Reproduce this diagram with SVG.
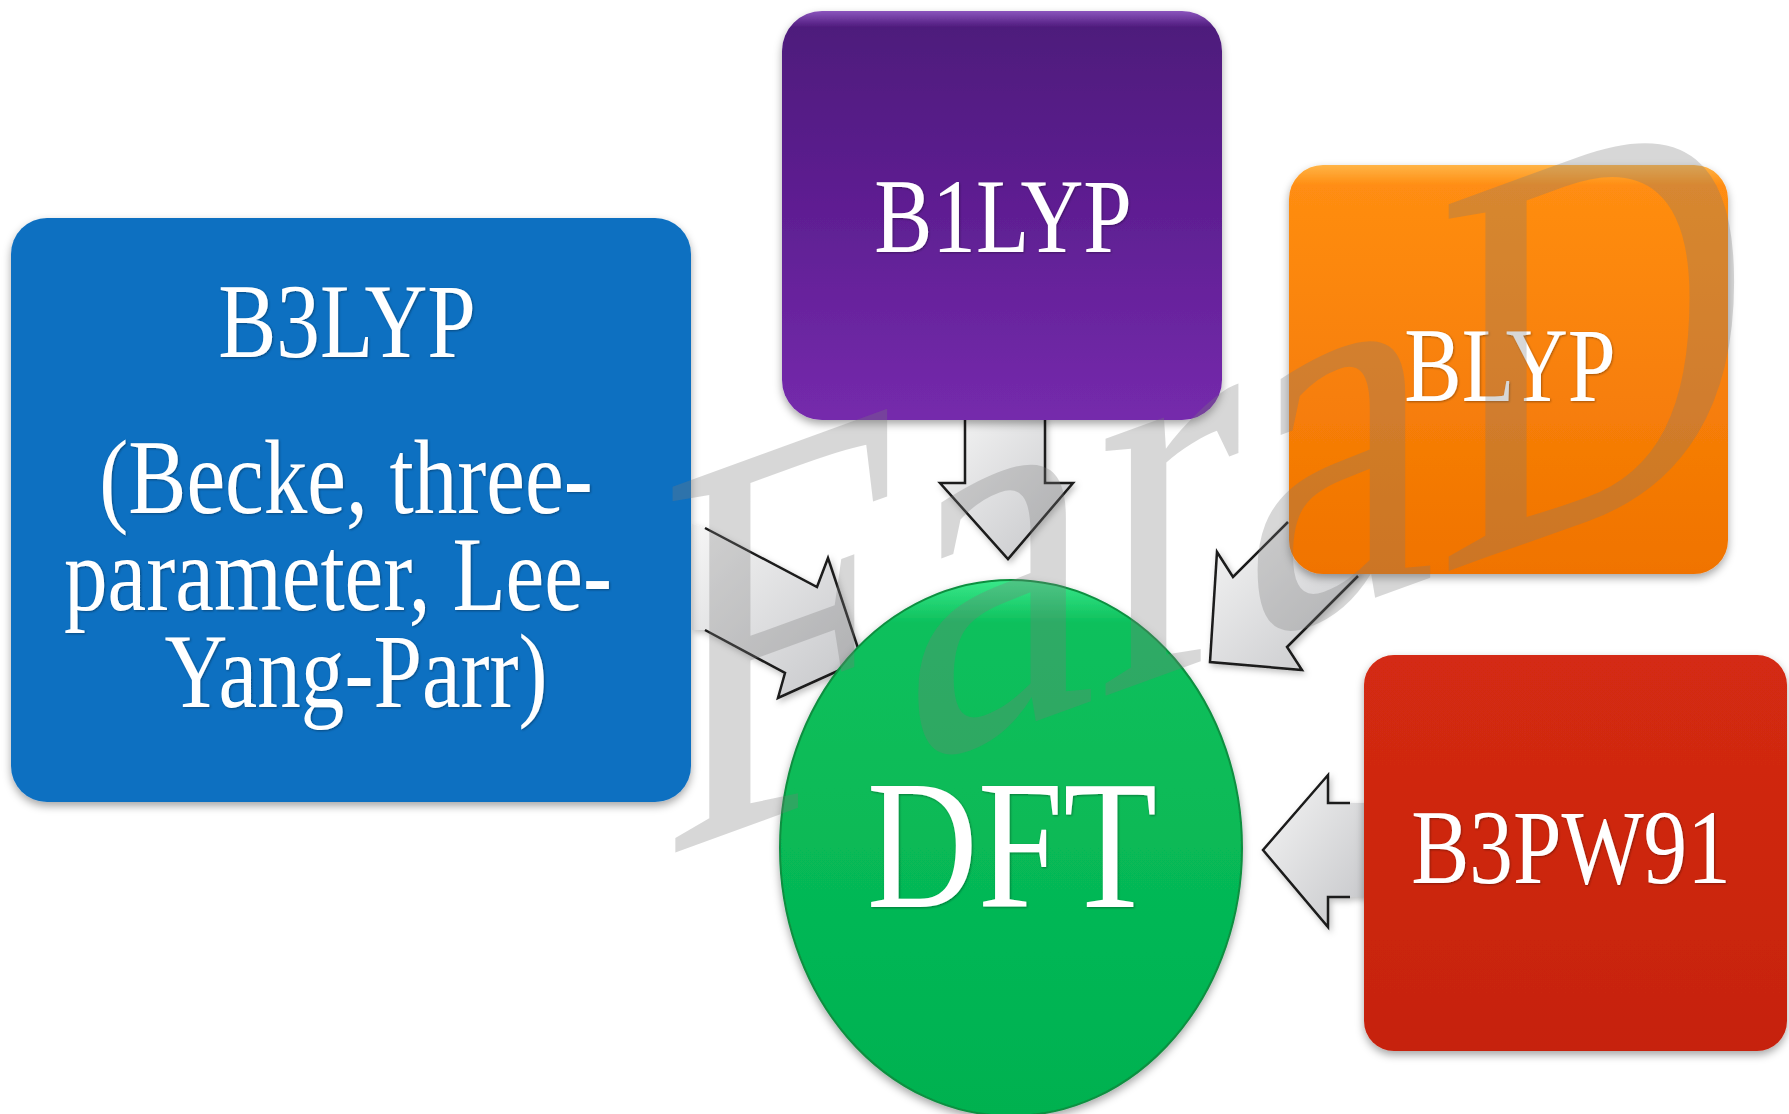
<svg xmlns="http://www.w3.org/2000/svg" width="1789" height="1114" viewBox="0 0 1789 1114">
<style>
.lbl{font-family:"Liberation Serif","Times New Roman",serif;fill:#ffffff;text-anchor:middle;}
.ar{fill:url(#gArrow);stroke:none;}
.ao{fill:none;stroke:#1a1a1a;stroke-width:2.5;stroke-linejoin:miter;}
.wm{font-family:"Liberation Serif","Times New Roman",serif;fill:#7a7a7a;fill-opacity:0.3;}
</style>
<defs>
<linearGradient id="gArrow" x1="0" y1="0" x2="1" y2="1">
<stop offset="0" stop-color="#f6f6f6"/>
<stop offset="1" stop-color="#c4c5c8"/>
</linearGradient>
<linearGradient id="gPurple" x1="0" y1="0" x2="0" y2="1">
<stop offset="0" stop-color="#8b55bd"/>
<stop offset="0.04" stop-color="#4e1a7c"/>
<stop offset="0.5" stop-color="#5f1f93"/>
<stop offset="1" stop-color="#752aac"/>
</linearGradient>
<linearGradient id="gOrange" x1="0" y1="0" x2="0" y2="1">
<stop offset="0" stop-color="#ffb447"/>
<stop offset="0.05" stop-color="#ff8d12"/>
<stop offset="1" stop-color="#f07300"/>
</linearGradient>
<linearGradient id="gRed" x1="0" y1="0" x2="0" y2="1">
<stop offset="0" stop-color="#d42a12"/>
<stop offset="1" stop-color="#c6230e"/>
</linearGradient>
<linearGradient id="gGreen" x1="0" y1="0" x2="0" y2="1">
<stop offset="0" stop-color="#3ae88a"/>
<stop offset="0.08" stop-color="#0cc05c"/>
<stop offset="1" stop-color="#01b150"/>
</linearGradient>
<filter id="sh" x="-10%" y="-10%" width="120%" height="125%">
<feDropShadow dx="0" dy="4" stdDeviation="4" flood-color="#000" flood-opacity="0.35"/>
</filter>
<filter id="ash" x="-20%" y="-20%" width="140%" height="140%">
<feDropShadow dx="2" dy="3" stdDeviation="3" flood-color="#000" flood-opacity="0.25"/>
</filter>
<filter id="tsh" x="-5%" y="-20%" width="110%" height="140%">
<feDropShadow dx="1" dy="1" stdDeviation="1" flood-color="#000" flood-opacity="0.35"/>
</filter>
</defs>
<rect x="0" y="0" width="1789" height="1114" fill="#ffffff"/>

<g id="connectors">
<g id="arrow-b3lyp" filter="url(#ash)">
<polygon class="ar" points="692,524 705,528 817,587 828,558 862,660 778,698 785,673 705,630 692,630"/>
<path class="ao" d="M705,528 L817,587 L828,558 L862,660 L778,698 L785,673 L705,630"/>
</g>
<g id="arrow-b1lyp" filter="url(#ash)">
<polygon class="ar" points="965,412 965,483 940,483 1008,559 1073,483 1045,483 1045,412"/>
<path class="ao" d="M965,420 L965,483 L940,483 L1008,559 L1073,483 L1045,483 L1045,420"/>
</g>
<g id="arrow-blyp" filter="url(#ash)">
<polygon class="ar" points="1292,518 1233,577 1217,552 1210,662 1302,670 1287,647 1362,572 1330,540"/>
<path class="ao" d="M1288,522 L1233,577 L1217,552 L1210,662 L1302,670 L1287,647 L1358,576"/>
</g>
<g id="arrow-b3pw91" filter="url(#ash)">
<polygon class="ar" points="1368,803 1328,803 1328,775 1263,850 1328,927 1328,897 1368,897"/>
<path class="ao" d="M1350,803 L1328,803 L1328,775 L1263,850 L1328,927 L1328,897 L1350,897"/>
</g>
</g>

<g id="node-b3lyp">
<rect x="11" y="218" width="680" height="584" rx="36" ry="36" fill="#0b6fc1" filter="url(#sh)"/>
<g class="lbl" font-size="105" filter="url(#tsh)">
<text transform="translate(347,357) scale(0.83,1)">B3LYP</text>
<text transform="translate(346,513) scale(0.83,1)">(Becke, three-</text>
<text transform="translate(338,610) scale(0.83,1)">parameter, Lee-</text>
<text transform="translate(356,707) scale(0.83,1)">Yang-Parr)</text>
</g>
</g>

<g id="node-b1lyp">
<rect x="782" y="11" width="440" height="409" rx="40" ry="40" fill="url(#gPurple)" filter="url(#sh)"/>
<text class="lbl" font-size="105" filter="url(#tsh)" transform="translate(1003,252) scale(0.83,1)">B1LYP</text>
</g>

<g id="node-blyp">
<rect x="1289" y="165" width="439" height="409" rx="34" ry="34" fill="url(#gOrange)" filter="url(#sh)"/>
<text class="lbl" font-size="105" filter="url(#tsh)" transform="translate(1510,401) scale(0.82,1)">BLYP</text>
</g>

<g id="node-b3pw91">
<rect x="1364" y="655" width="423" height="396" rx="30" ry="30" fill="url(#gRed)" filter="url(#sh)"/>
<text class="lbl" font-size="105" filter="url(#tsh)" transform="translate(1571,883) scale(0.83,1)">B3PW91</text>
</g>

<g id="node-dft">
<ellipse cx="1011" cy="848" rx="231" ry="268" fill="url(#gGreen)" stroke="#0b8f40" stroke-width="2" filter="url(#sh)"/>
<text class="lbl" font-size="184" filter="url(#tsh)" transform="translate(1012,907) scale(0.835,1)">DFT</text>
</g>

<text class="wm" font-size="560" transform="translate(660,858) skewY(-20) scale(0.78,1)">FaraD</text>
</svg>
